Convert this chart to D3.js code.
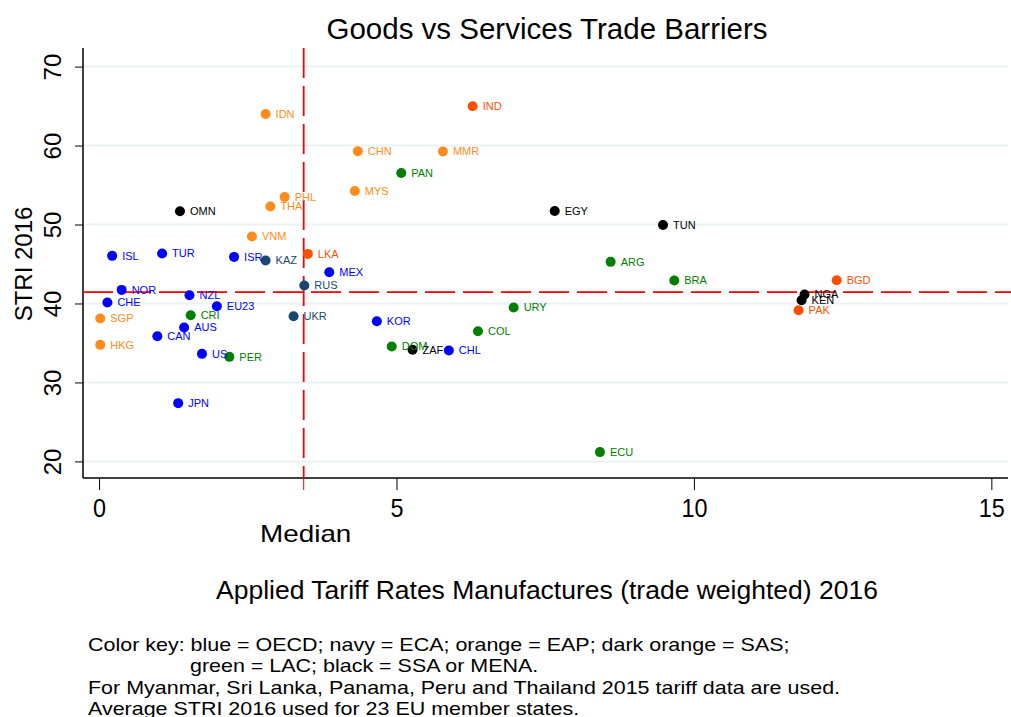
<!DOCTYPE html>
<html>
<head>
<meta charset="utf-8">
<script src="https://cdn.jsdelivr.net/npm/d3@7"></script>
<style>
  body { margin: 0; background: #fff; }
  text { font-family: "Liberation Sans", Arial, sans-serif; }
</style>
</head>
<body>
<div class="canvas"></div>
<script>
// data
const countries = ['IDN','IND','CHN','MMR','PAN','MYS','PHL','THA','OMN','EGY','TUN','VNM',
  'ISL','TUR','ISR','KAZ','LKA','MEX','RUS','ARG','BRA','BGD','NGA','KEN','PAK',
  'NOR','NZL','CHE','EU23','CRI','SGP','UKR','AUS','CAN','HKG','US','PER','JPN',
  'KOR','URY','COL','DOM','ZAF','CHL','ECU'];
const tariff = [2.80,6.28,4.35,5.78,5.08,4.30,3.12,2.88,1.36,7.66,9.48,2.57,
  0.22,1.06,2.27,2.80,3.51,3.87,3.45,8.60,9.67,12.40,11.86,11.81,11.76,
  0.38,1.52,0.14,1.98,1.54,0.02,3.27,1.43,0.98,0.02,1.73,2.19,1.33,
  4.67,6.97,6.37,4.92,5.27,5.88,8.42];
const stri = [64.0,64.97,59.28,59.24,56.53,54.25,53.49,52.28,51.68,51.72,49.95,48.48,
  46.03,46.33,45.90,45.44,46.28,43.96,42.28,45.27,42.91,42.95,41.14,40.42,39.15,
  41.72,41.05,40.13,39.66,38.52,38.10,38.39,36.96,35.86,34.76,33.62,33.24,27.38,
  37.76,39.49,36.49,34.56,34.13,34.05,21.18];
const region = ['EAP','SAS','EAP','EAP','LAC','EAP','EAP','EAP','MENA','MENA','MENA','EAP',
  'OECD','OECD','OECD','ECA','SAS','OECD','ECA','LAC','LAC','SAS','SSA','SSA','SAS',
  'OECD','OECD','OECD','OECD','LAC','EAP','ECA','OECD','OECD','EAP','OECD','LAC','OECD',
  'OECD','LAC','LAC','LAC','SSA','OECD','LAC'];
const regionNames = ['OECD','ECA','EAP','SAS','LAC','SSA','MENA'];
const regionColours = ['#0000ff','#1a476f','#ff8c1a','#ff4f00','#008000','#000000','#000000'];
const xTicks = [0, 5, 10, 15];
const yTicks = [20, 30, 40, 50, 60, 70];
const medianTariff = 3.44;
const medianStri = 41.45;
const notes = [
  'Color key: blue = OECD; navy = ECA; orange = EAP; dark orange = SAS;',
  'green = LAC; black = SSA or MENA.',
  'For Myanmar, Sri Lanka, Panama, Peru and Thailand 2015 tariff data are used.',
  'Average STRI 2016 used for 23 EU member states.'
];

const data = countries.map((c, i) => ({name: c, x: tariff[i], y: stri[i], region: region[i]}));

const dims = {width: 1011, height: 717};
const plot = {left: 83, right: 1008, top: 48, bottom: 478};

const svg = d3.select('.canvas')
  .append('svg')
  .attr('width', dims.width)
  .attr('height', dims.height);

const x = d3.scaleLinear().domain([-0.27, 15.28]).range([plot.left, plot.right]);
const y = d3.scaleLinear().domain([17.9, 72.1]).range([plot.bottom, plot.top + 2]);
const colour = d3.scaleOrdinal().domain(regionNames).range(regionColours);

// gridlines
svg.append('g')
  .selectAll('line')
  .data(yTicks)
  .enter().append('line')
  .attr('x1', plot.left).attr('x2', plot.right)
  .attr('y1', d => y(d)).attr('y2', d => y(d))
  .attr('stroke', '#eaf2f3')
  .attr('stroke-width', 2);

// axes
const xAxis = d3.axisBottom(x).tickValues(xTicks).tickSize(12).tickPadding(9).tickSizeOuter(0);
const yAxis = d3.axisLeft(y).tickValues(yTicks).tickSize(8).tickSizeOuter(0);

const xg = svg.append('g')
  .attr('transform', `translate(0, ${plot.bottom})`)
  .call(xAxis);
xg.select('.domain').attr('stroke', '#000').attr('stroke-width', 1.5)
  .attr('d', `M${plot.left},0H${plot.right}`);
xg.selectAll('.tick line').attr('stroke', '#000');
xg.selectAll('text')
  .attr('font-size', 26)
  .attr('fill', '#000')
  .attr('transform', 'scale(0.9, 1)');

const yg = svg.append('g')
  .attr('transform', `translate(${plot.left}, 0)`)
  .call(yAxis);
yg.select('.domain').attr('stroke', '#000').attr('stroke-width', 1.5)
  .attr('d', `M0,${plot.top}V${plot.bottom}`);
yg.selectAll('.tick line').attr('stroke', '#000');
yg.selectAll('text')
  .attr('font-size', 24)
  .attr('fill', '#000')
  .attr('x', 0).attr('y', 0).attr('dy', 0)
  .attr('text-anchor', 'middle')
  .attr('transform', 'translate(-22, 0) rotate(-90)');

// median tick + label
svg.append('line')
  .attr('x1', x(medianTariff)).attr('x2', x(medianTariff))
  .attr('y1', plot.bottom).attr('y2', plot.bottom + 12)
  .attr('stroke', 'red');
svg.append('text')
  .attr('transform', `translate(${x(medianTariff) + 2}, 542) scale(1.16, 1)`)
  .attr('text-anchor', 'middle')
  .attr('font-size', 24)
  .text('Median');

// median lines
svg.append('line')
  .attr('x1', plot.left).attr('x2', dims.width)
  .attr('y1', y(medianStri)).attr('y2', y(medianStri))
  .attr('stroke', 'red').attr('stroke-width', 1.8)
  .attr('stroke-dasharray', '30,8');
svg.append('line')
  .attr('x1', x(medianTariff)).attr('x2', x(medianTariff))
  .attr('y1', plot.top).attr('y2', plot.bottom)
  .attr('stroke', 'red').attr('stroke-width', 1.8)
  .attr('stroke-dasharray', '30,8');

// points
const pts = svg.append('g');
pts.selectAll('circle')
  .data(data)
  .enter().append('circle')
  .attr('cx', d => x(d.x))
  .attr('cy', d => y(d.y))
  .attr('r', 5)
  .attr('fill', d => colour(d.region));

pts.selectAll('text')
  .data(data)
  .enter().append('text')
  .attr('x', d => x(d.x) + 10)
  .attr('y', d => y(d.y))
  .attr('dy', '0.35em')
  .attr('font-size', 11)
  .attr('fill', d => colour(d.region))
  .text(d => d.name);

// titles
svg.append('text')
  .attr('x', 547).attr('y', 39)
  .attr('text-anchor', 'middle')
  .attr('font-size', 29.5)
  .text('Goods vs Services Trade Barriers');

svg.append('text')
  .attr('transform', `translate(32, ${(plot.top + plot.bottom) / 2 + 1}) rotate(-90)`)
  .attr('text-anchor', 'middle')
  .attr('font-size', 24)
  .text('STRI 2016');

svg.append('text')
  .attr('x', 547).attr('y', 599)
  .attr('text-anchor', 'middle')
  .attr('font-size', 26.5)
  .text('Applied Tariff Rates Manufactures (trade weighted) 2016');

svg.append('g')
  .selectAll('text')
  .data(notes)
  .enter().append('text')
  .attr('transform', (d, i) => `translate(${i === 1 ? 190 : 88}, ${651 + i * 21.3}) scale(1.13, 1)`)
  .attr('font-size', 19)
  .text(d => d);
</script>
</body>
</html>
